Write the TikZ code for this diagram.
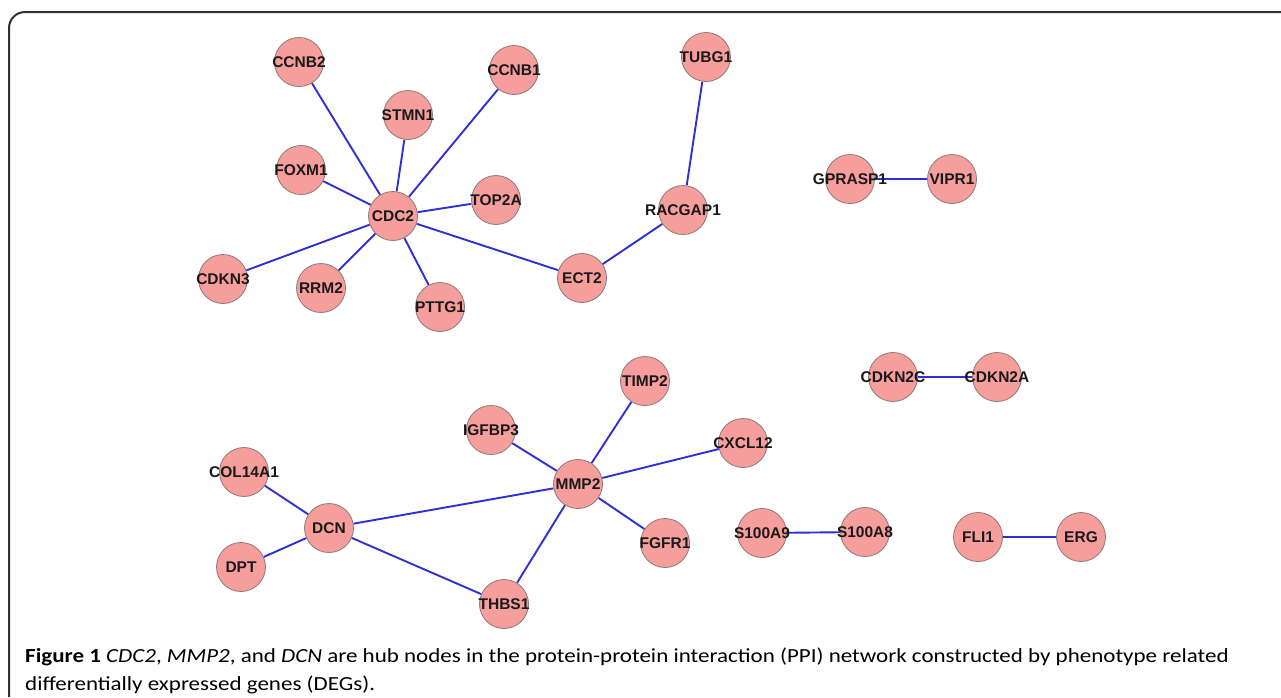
\documentclass[tikz,border=0pt]{standalone}
\usepackage{fontspec}
\setmainfont{Liberation Sans}
\newfontfamily\capfont[FakeStretch=1.15]{Carlito}
\usetikzlibrary{backgrounds}
\definecolor{nodefill}{RGB}{246,158,156}
\definecolor{nodeline}{RGB}{140,120,120}
\definecolor{edgeblue}{RGB}{48,48,210}
\definecolor{framegray}{RGB}{50,50,50}
\tikzset{
  gene/.style={circle, minimum size=49pt, inner sep=0pt, fill=nodefill, draw=nodeline, line width=0.8pt,
    font=\fontsize{15.5pt}{15.5pt}\selectfont\bfseries, text=black!90},
  link/.style={draw=edgeblue, line width=1.9pt},
}
\newcommand{\gn}[1]{\makebox[0pt]{#1}}
\begin{document}
\begin{tikzpicture}[x=1pt,y=-1pt]
\useasboundingbox (0,0) rectangle (1281,697);
% frame
\draw[framegray, line width=2pt, rounded corners=16pt] (9,697) -- (9,12) -- (1281,12);
% nodes
\node[gene] (CCNB2) at (299,62) {\gn{CCNB2}};
\node[gene] (CCNB1) at (514,70) {\gn{CCNB1}};
\node[gene] (STMN1) at (408,115) {\gn{STMN1}};
\node[gene] (FOXM1) at (301,170) {\gn{FOXM1}};
\node[gene] (CDC2) at (393,216) {\gn{CDC2}};
\node[gene] (TOP2A) at (496,200) {\gn{TOP2A}};
\node[gene] (CDKN3) at (223,279) {\gn{CDKN3}};
\node[gene] (RRM2) at (321,288) {\gn{RRM2}};
\node[gene] (PTTG1) at (440,307) {\gn{PTTG1}};
\node[gene] (ECT2) at (582,278) {\gn{ECT2}};
\node[gene] (RACGAP1) at (683,210) {\gn{RACGAP1}};
\node[gene] (TUBG1) at (706,57) {\gn{TUBG1}};
\node[gene] (GPRASP1) at (850,179) {\gn{GPRASP1}};
\node[gene] (VIPR1) at (952,179) {\gn{VIPR1}};
\node[gene] (CDKN2C) at (893,377) {\gn{CDKN2C}};
\node[gene] (CDKN2A) at (997,377) {\gn{CDKN2A}};
\node[gene] (TIMP2) at (645,381) {\gn{TIMP2}};
\node[gene] (IGFBP3) at (491,430) {\gn{IGFBP3}};
\node[gene] (CXCL12) at (743,443) {\gn{CXCL12}};
\node[gene] (COL14A1) at (244,472) {\gn{COL14A1}};
\node[gene] (MMP2) at (578,484) {\gn{MMP2}};
\node[gene] (DCN) at (329,528) {\gn{DCN}};
\node[gene] (DPT) at (241,567) {\gn{DPT}};
\node[gene] (FGFR1) at (665,543) {\gn{FGFR1}};
\node[gene] (THBS1) at (504,604) {\gn{THBS1}};
\node[gene] (S100A9) at (762,533) {\gn{S100A9}};
\node[gene] (S100A8) at (865,532) {\gn{S100A8}};
\node[gene] (FLI1) at (978,537) {\gn{FLI1}};
\node[gene] (ERG) at (1081,537) {\gn{ERG}};
% edges
\begin{scope}[on background layer]
\foreach \a/\b in {CDC2/CCNB2, CDC2/CCNB1, CDC2/STMN1, CDC2/FOXM1, CDC2/TOP2A, CDC2/CDKN3,
  CDC2/RRM2, CDC2/PTTG1, CDC2/ECT2, ECT2/RACGAP1, RACGAP1/TUBG1, GPRASP1/VIPR1,
  CDKN2C/CDKN2A, MMP2/TIMP2, MMP2/IGFBP3, MMP2/CXCL12, MMP2/FGFR1, MMP2/THBS1, MMP2/DCN,
  DCN/COL14A1, DCN/DPT, DCN/THBS1, S100A9/S100A8, FLI1/ERG}
  \draw[link] (\a) -- (\b);
\end{scope}
% caption
\node[anchor=base west, inner sep=0pt, font=\capfont\fontsize{20pt}{24pt}\selectfont, text=black] (cap1) at (25,662)
  {\textbf{Figure 1} \textit{CDC2}, \textit{MMP2}, and \textit{DCN} are hub nodes in the protein-protein interaction (PPI) network constructed by phenotype related};
\node[anchor=base west, inner sep=0pt, font=\capfont\fontsize{20pt}{24pt}\selectfont, text=black] (cap2) at (25,690)
  {differentially expressed genes (DEGs).};
\end{tikzpicture}
\end{document}
